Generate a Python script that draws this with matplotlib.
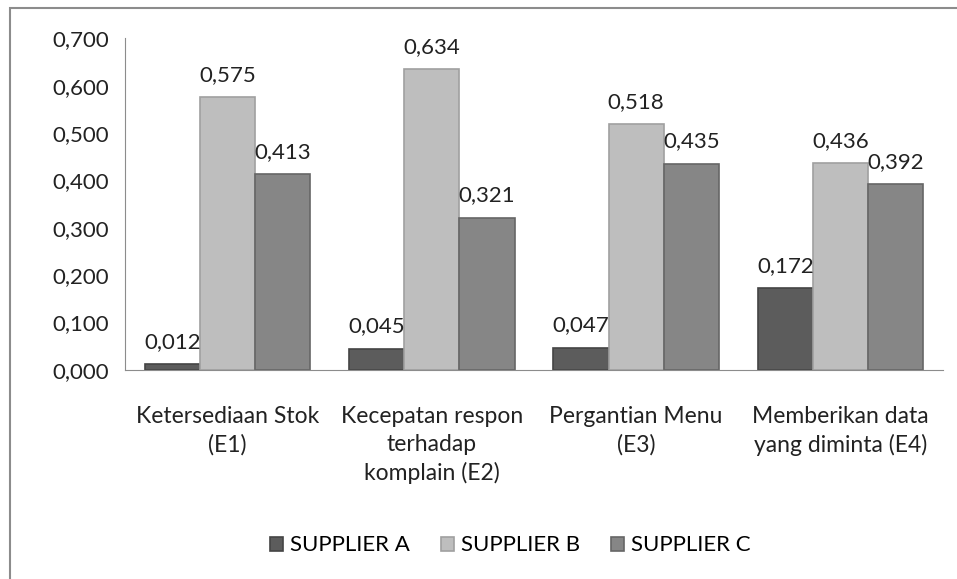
import numpy as np
from matplotlib import pyplot as plt
from matplotlib.patches import Rectangle

categories = ["Ketersediaan Stok\n(E1)", "Kecepatan respon\nterhadap\nkomplain (E2)",
              "Pergantian Menu\n(E3)", "Memberikan data\nyang diminta (E4)"]
supplier_a = [0.012, 0.045, 0.047, 0.172]
supplier_b = [0.575, 0.634, 0.518, 0.436]
supplier_c = [0.413, 0.321, 0.435, 0.392]
series_names = ["SUPPLIER A", "SUPPLIER B", "SUPPLIER C"]
yticks = [0.0, 0.1, 0.2, 0.3, 0.4, 0.5, 0.6, 0.7]


def fmt(v):
    return f"{v:.3f}".replace(".", ",")


def main():
    plt.rcParams['font.family'] = ['Lato', 'DejaVu Sans']
    fig = plt.figure(figsize=(9.57, 5.79), dpi=100)
    ax = fig.add_axes([0.131, 0.361, 0.854, 0.573])

    # outer chart border (left and top visible)
    fig.patches.append(Rectangle((10 / 957, -0.1), 1.2, 1 - 8 / 579 + 0.1,
                                 transform=fig.transFigure, fill=False,
                                 edgecolor='#8c8c8c', linewidth=1.5))

    x = np.arange(len(categories))
    w = 0.27
    colors = ['#5c5c5c', '#bebebe', '#868686']
    edges = ['#444444', '#a0a0a0', '#666666']
    for i, (vals, name) in enumerate(zip([supplier_a, supplier_b, supplier_c], series_names)):
        bars = ax.bar(x + (i - 1) * w, vals, w, color=colors[i], edgecolor=edges[i],
                      linewidth=1.2, label=name)
        for b, v in zip(bars, vals):
            ax.annotate(fmt(v), (b.get_x() + b.get_width() / 2, v),
                        xytext=(0, 9), textcoords='offset points',
                        ha='center', va='bottom', fontsize=16, color='#222222')

    ax.set_xlim(-0.5, len(categories) - 0.5)
    ax.set_ylim(0, 0.7)
    ax.set_yticks(yticks)
    ax.set_yticklabels([fmt(v) for v in yticks], fontsize=16, color='#222222')
    ax.set_xticks(x)
    ax.set_xticklabels(categories, fontsize=16.5, color='#222222', linespacing=1.4)
    ax.tick_params(axis='x', length=0, pad=26)
    ax.tick_params(axis='y', length=0, pad=12)
    for s in ['top', 'right']:
        ax.spines[s].set_visible(False)
    for s in ['left', 'bottom']:
        ax.spines[s].set_color('#8c8c8c')

    fig.legend(loc='center', bbox_to_anchor=(0.533, 0.058), ncol=3, frameon=False,
               fontsize=16, handlelength=0.6, handleheight=0.6, handletextpad=0.3,
               columnspacing=1.4)

    fig.savefig("out.png", dpi=100)


if __name__ == "__main__":
    main()
